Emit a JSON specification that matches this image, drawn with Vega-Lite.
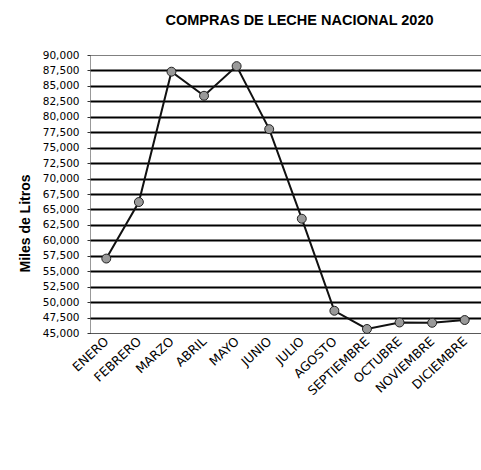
{
  "$schema": "https://vega.github.io/schema/vega-lite/v6.json",
  "autosize": "none",
  "width": 391,
  "height": 278,
  "padding": {"left": 90, "top": 55, "right": 0, "bottom": 137},
  "background": "white",
  "title": {
    "text": "COMPRAS DE LECHE NACIONAL 2020",
    "font": "Liberation Sans",
    "fontSize": 14.5,
    "fontWeight": "bold",
    "color": "black",
    "anchor": "middle",
    "dx": 14,
    "offset": 22
  },
  "config": {
    "view": {"stroke": null},
    "axis": {
      "labelFont": "DejaVu Sans",
      "titleFont": "Liberation Sans",
      "labelColor": "black",
      "titleColor": "black"
    }
  },
  "data": {
    "values": [
      {"mes": "ENERO", "litros": 57050},
      {"mes": "FEBRERO", "litros": 66200},
      {"mes": "MARZO", "litros": 87300},
      {"mes": "ABRIL", "litros": 83400},
      {"mes": "MAYO", "litros": 88200},
      {"mes": "JUNIO", "litros": 78000},
      {"mes": "JULIO", "litros": 63500},
      {"mes": "AGOSTO", "litros": 48600},
      {"mes": "SEPTIEMBRE", "litros": 45650},
      {"mes": "OCTUBRE", "litros": 46700},
      {"mes": "NOVIEMBRE", "litros": 46650},
      {"mes": "DICIEMBRE", "litros": 47100}
    ]
  },
  "encoding": {
    "x": {
      "field": "mes",
      "type": "ordinal",
      "sort": null,
      "scale": {"type": "point", "padding": 0.5},
      "axis": {
        "title": null,
        "labelAngle": -43,
        "labelAlign": "right",
        "labelBaseline": "middle",
        "labelFontSize": 12.5,
        "labelFontWeight": "normal",
        "labelPadding": 6,
        "ticks": false,
        "grid": false,
        "domainColor": "#333",
        "domainDash": [1, 1],
        "domainWidth": 1
      }
    },
    "y": {
      "field": "litros",
      "type": "quantitative",
      "scale": {"domain": [45000, 90000], "nice": false, "zero": false},
      "axis": {
        "title": "Miles de Litros",
        "titleFontSize": 14,
        "titleFontWeight": "bold",
        "titleX": -58,
        "titleY": 168,
        "values": [45000, 47500, 50000, 52500, 55000, 57500, 60000, 62500, 65000, 67500, 70000, 72500, 75000, 77500, 80000, 82500, 85000, 87500, 90000],
        "format": ",d",
        "labelFontSize": 10.5,
        "labelPadding": 8,
        "tickSize": 3,
        "tickColor": "#333",
        "domainColor": "#333",
        "domainDash": [1, 1],
        "domainWidth": 1,
        "grid": true,
        "gridColor": "black",
        "gridOpacity": 1,
        "gridWidth": {"condition": {"test": "datum.value >= 90000 || datum.value <= 45000", "value": 1}, "value": 2},
        "gridDash": {"condition": {"test": "datum.value >= 90000 || datum.value <= 45000", "value": [1, 1]}, "value": []}
      }
    }
  },
  "layer": [
    {
      "mark": {"type": "line", "color": "#111", "strokeWidth": 2}
    },
    {
      "mark": {"type": "point", "shape": "circle", "filled": true, "fill": "#999", "stroke": "#222", "strokeWidth": 1, "size": 80, "opacity": 1}
    }
  ]
}
